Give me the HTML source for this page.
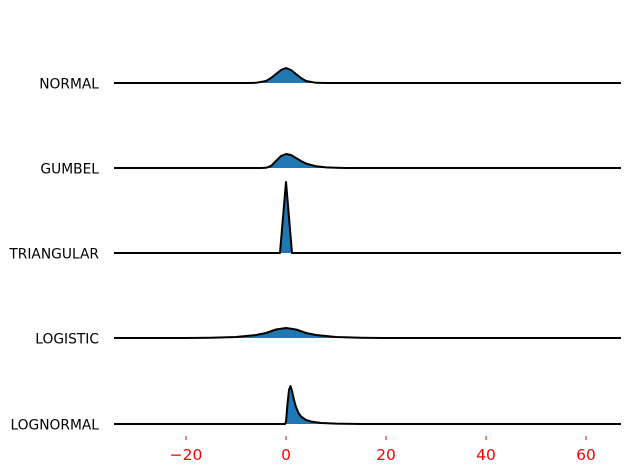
<!DOCTYPE html>
<html><head><meta charset="utf-8"><style>
body{margin:0;background:#fff;}
svg{display:block;font-family:"DejaVu Sans","Liberation Sans",sans-serif;}
</style></head><body>
<svg id="chart" width="630" height="473"></svg>
<script>
const categories=["NORMAL","GUMBEL","TRIANGULAR","LOGISTIC","LOGNORMAL"];
const xNormal=[-34.4,-8,-6,-4,-3,-2,-1,0,1,2,3,4,6,8,67];
const yNormal=[0,0,0.002,0.02,0.05,0.09,0.13,0.15,0.13,0.09,0.05,0.02,0.002,0,0];
const xGumbel=[-34.4,-5,-4,-3,-2,-1,0,1,2,3,4,5,6,8,10,12,67];
const yGumbel=[0,0,0.002,0.02,0.07,0.12,0.14,0.13,0.10,0.07,0.045,0.03,0.018,0.006,0.002,0,0];
const xTri=[-34.4,-1.2,0,1.2,67];
const yTri=[0,0,0.71,0,0];
const xLogistic=[-34.4,-20,-15,-10,-6,-4,-2,0,2,4,6,10,15,20,67];
const yLogistic=[0,0,0.003,0.01,0.03,0.05,0.085,0.1,0.085,0.05,0.03,0.01,0.003,0,0];
const xLognormal=[-34.4,-0.2,0,0.3,0.6,0.9,1.2,1.6,2,2.5,3,4,5,7,10,15,67];
const yLognormal=[0,0,0.02,0.2,0.34,0.38,0.33,0.24,0.17,0.11,0.075,0.04,0.025,0.01,0.004,0,0];
const tickValues=[-20,0,20,40,60];
const tickLabels=["\u221220","0","20","40","60"];

const NS="http://www.w3.org/2000/svg";
const svg=document.getElementById("chart");
const xMin=-34.4,xMax=67,pxL=114,pxR=621;
function xs(v){return pxL+(v-xMin)/(xMax-xMin)*(pxR-pxL);}
const baselines=[83,168,253,338,424];
function ys(v,i){return baselines[i]-v*100;}
const series=[[xNormal,yNormal],[xGumbel,yGumbel],[xTri,yTri],[xLogistic,yLogistic],[xLognormal,yLognormal]];
series.forEach((s,i)=>{
  const [xa,ya]=s;
  let d="";
  for(let k=0;k<xa.length;k++){d+=(k?"L":"M")+xs(xa[k]).toFixed(2)+","+ys(ya[k],i).toFixed(2);}
  const fill=document.createElementNS(NS,"path");
  fill.setAttribute("d",d+"L"+xs(xMax)+","+baselines[i]+"L"+xs(xMin)+","+baselines[i]+"Z");
  fill.setAttribute("fill","#1f77b4");
  
  
  svg.appendChild(fill);
  const line=document.createElementNS(NS,"path");
  line.setAttribute("d",d);
  line.setAttribute("fill","none");line.setAttribute("stroke","#000");
  line.setAttribute("stroke-width","2");line.setAttribute("stroke-linejoin","round");
  
  
  svg.appendChild(line);
  const t=document.createElementNS(NS,"text");
  t.setAttribute("x",99);t.setAttribute("y",baselines[i]+5.5);
  t.setAttribute("text-anchor","end");t.setAttribute("font-size","13.8");
  t.textContent=categories[i];
  
  
  svg.appendChild(t);
});
tickValues.forEach((v,i)=>{
  const l=document.createElementNS(NS,"line");
  l.setAttribute("x1",xs(v));l.setAttribute("x2",xs(v));
  l.setAttribute("y1",436);l.setAttribute("y2",440);
  l.setAttribute("stroke","red");
  
  
  svg.appendChild(l);
  const t=document.createElementNS(NS,"text");
  t.setAttribute("x",xs(v));t.setAttribute("y",460);
  t.setAttribute("text-anchor","middle");t.setAttribute("font-size","15.5");t.setAttribute("fill","red");
  t.textContent=tickLabels[i];
  
  
  svg.appendChild(t);
});
</script>
</body></html>
